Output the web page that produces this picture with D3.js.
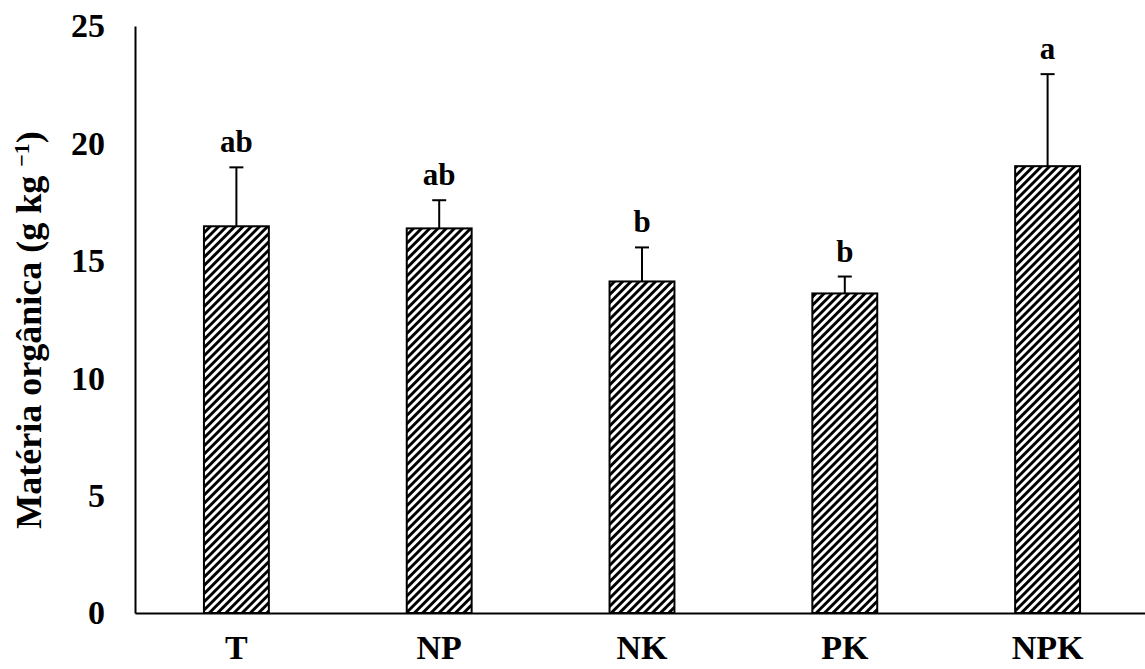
<!DOCTYPE html>
<html><head><meta charset="utf-8">
<script src="https://cdn.jsdelivr.net/npm/d3@7"></script>
<style>body{margin:0;background:#fff}svg{display:block}</style>
</head><body>
<svg id="c" width="1145" height="669"></svg>
<script>
const categories = ["T","NP","NK","PK","NPK"];
const means = [16.47, 16.38, 14.12, 13.61, 19.03];
const errors = [2.51, 1.20, 1.45, 0.72, 3.92];
const letters = ["ab","ab","b","b","a"];
const yTicks = [0,5,10,15,20,25];

const svg = d3.select("#c");
const x = d3.scaleBand().domain(categories).range([135, 1149]).padding(0);
const y = d3.scaleLinear().domain([0,25]).range([613, 26]);
const bw = x.bandwidth() * 0.32;

const defs = svg.append("defs");
const pat = defs.append("pattern").attr("id","hatch").attr("patternUnits","userSpaceOnUse")
  .attr("width",5.8).attr("height",5.8).attr("patternTransform","rotate(45)");
pat.append("rect").attr("width",5.8).attr("height",5.8).attr("fill","#fff");
pat.append("rect").attr("x",0).attr("y",0).attr("width",2.9).attr("height",5.8).attr("fill","#000");

const font = "'Liberation Serif','Times New Roman',serif";

const g = svg.append("g");
g.selectAll("rect.bar").data(categories).join("rect").attr("class","bar")
  .attr("x", d => x(d) + x.bandwidth()/2 - bw/2).attr("width", bw)
  .attr("y", (d,i) => y(means[i])).attr("height", (d,i) => y(0) - y(means[i]))
  .attr("fill","url(#hatch)").attr("stroke","#000").attr("stroke-width",2);

categories.forEach((c,i) => {
  const cx = x(c) + x.bandwidth()/2;
  const top = y(means[i]+errors[i]);
  g.append("line").attr("x1",cx).attr("x2",cx).attr("y1",y(means[i])).attr("y2",top)
    .attr("stroke","#000").attr("stroke-width",2);
  g.append("line").attr("x1",cx-7).attr("x2",cx+7).attr("y1",top).attr("y2",top)
    .attr("stroke","#000").attr("stroke-width",2);
  g.append("text").attr("x",cx).attr("y",top - 15)
    .attr("text-anchor","middle").attr("font-family",font).attr("font-weight","bold").attr("font-size",31)
    .text(letters[i]);
});

const yAxis = svg.append("g").attr("transform","translate(135,0)")
  .call(d3.axisLeft(y).tickValues(yTicks).tickSize(0).tickPadding(30));
yAxis.attr("font-family",font).attr("font-size",34).attr("font-weight","bold");
yAxis.select(".domain").attr("stroke","#000").attr("stroke-width",2);
yAxis.selectAll("text").attr("fill","#000");

const xAxis = svg.append("g").attr("transform",`translate(0,${y(0)})`)
  .call(d3.axisBottom(x).tickSize(0).tickPadding(22));
xAxis.attr("font-family",font).attr("font-size",34).attr("font-weight","bold");
xAxis.select(".domain").attr("stroke","#000").attr("stroke-width",2);
xAxis.selectAll("text").attr("fill","#000");

const t = svg.append("text").attr("transform","translate(41,330) rotate(-90)")
  .attr("text-anchor","middle").attr("font-family",font).attr("font-weight","bold").attr("font-size",36);
t.append("tspan").text("Matéria orgânica (g kg ");
t.append("tspan").attr("dy",-12).attr("font-size",22).text("−1");
t.append("tspan").attr("dy",12).text(")");
</script>
</body></html>
